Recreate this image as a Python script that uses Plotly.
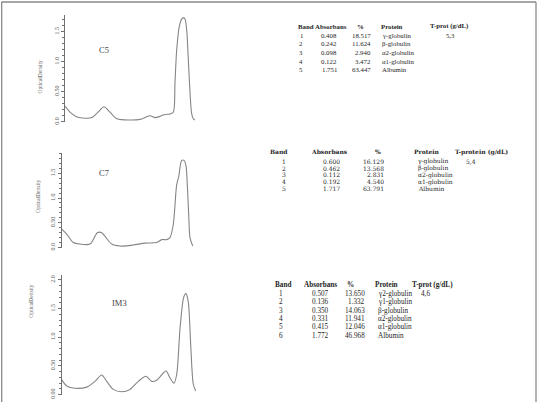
import plotly.graph_objects as go

W, H = 539, 406

# ---- densitometry traces (migration position, optical density) ----
c5_x = [0, 5, 12, 20, 27, 33, 39, 45, 52, 65, 75, 85, 90, 95, 100, 105, 108.3, 110, 111.7, 114.3, 116.7, 118.3,
        120, 121.7, 123.3, 125, 126.7, 128.3, 130]
c5_y = [0.26, 0.16, 0.08, 0.06, 0.07, 0.16, 0.25, 0.16, 0.05, 0.03, 0.04, 0.10, 0.07, 0.09, 0.12, 0.13, 0.16, 0.66,
        1.20, 1.59, 1.71, 1.73, 1.71, 1.53, 1.04, 0.49, 0.13, 0.05, 0.03]

c7_x = [0, 5, 11.6, 18.3, 28.3, 33.3, 35.6, 40, 44.3, 50, 58.3, 71.3, 83.3, 95, 100, 105, 108.3, 111.6, 115, 117,
        120, 122.3, 124.3, 125.6, 127, 128.3, 131]
c7_y = [0.37, 0.27, 0.10, 0.07, 0.07, 0.23, 0.30, 0.30, 0.20, 0.07, 0.03, 0.05, 0.09, 0.10, 0.16, 0.16, 0.20, 0.47,
        1.27, 1.43, 1.76, 1.76, 1.65, 1.27, 0.67, 0.20, 0.03]

im3_x = [0, 5, 13.3, 25, 33.3, 40, 45, 51.6, 60, 68.3, 76.6, 84.3, 90, 95, 104.3, 108.3, 112.3, 115, 118.3, 121.6,
         123, 124.3, 126.6, 129, 131.6, 134]
im3_y = [0.26, 0.15, 0.11, 0.13, 0.23, 0.34, 0.23, 0.09, 0.05, 0.09, 0.23, 0.32, 0.23, 0.25, 0.41, 0.29, 0.20, 0.35,
         1.15, 1.67, 1.74, 1.76, 1.61, 0.87, 0.18, 0.06]

sample_names = ["C5", "C7", "IM3"]

# ---- tables ----
t1_band = ["1", "2", "3", "4", "5"]
t1_abs = ["0.408", "0.242", "0.098", "0.122", "1.751"]
t1_pct = ["18.517", "11.624", "2.940", "3.472", "63.447"]
t1_prot = ["γ-globulin", "β-globulin", "α2-globulin", "α1-globulin", "Albumin"]
t1_tp = "5,3"

t2_band = ["1", "2", "3", "4", "5"]
t2_abs = ["0.600", "0.462", "0.112", "0.192", "1.717"]
t2_pct = ["16.129", "13.568", "2.831", "4.540", "63.791"]
t2_prot = ["γ-globulin", "β-globulin", "α2-globulin", "α1-globulin", "Albumin"]
t2_tp = "5,4"

t3_band = ["1", "2", "3", "4", "5", "6"]
t3_abs = ["0.507", "0.136", "0.350", "0.331", "0.415", "1.772"]
t3_pct = ["13.650", "1.332", "14.063", "11.941", "12.046", "46.968"]
t3_prot = ["γ2-globulin", "γ1-globulin", "β-globulin", "α2-globulin", "α1-globulin", "Albumin"]
t3_tp = "4,6"


def px(x):
    return x / W


def py(y):
    return 1 - y / H


fig = go.Figure()
LINE = "#707070"
TXT = "#1e1e1e"
SERIF = "Liberation Serif, Times New Roman, serif"
WIDE_SERIF = "DejaVu Serif, serif"

panels = [
    dict(x=c5_x, y=c5_y, xr=[0, 132], x0=65, x1=197, yt=15, yb=123, yr=[0, 1.78],
         tv=[0, 0.5, 1.0, 1.5], tt=["0.0", "0.50", "1.0", "1.5"], lab=(97, 43), title=(35, 58)),
    dict(x=c7_x, y=c7_y, xr=[0, 133.3], x0=61.7, x1=195, yt=155, yb=250, yr=[0, 1.9],
         tv=[0, 0.5, 1.0, 1.5], tt=["0.0", "0.50", "1.0", "1.5"], lab=(97, 175), title=(33, 198)),
    dict(x=im3_x, y=im3_y, xr=[0, 134.3], x0=61.7, x1=196, yt=278, yb=398.5, yr=[0, 2.08],
         tv=[0, 0.5, 1.0, 1.5, 2.0], tt=["0.00", "0.50", "1.0", "1.5", "2.0"], lab=(110, 313), title=(26, 323)),
]

for i, p in enumerate(panels):
    n = "" if i == 0 else str(i + 1)
    fig.add_trace(go.Scatter(x=p["x"], y=p["y"], mode="lines",
                             line=dict(color="#858585", width=1.1, shape="spline", smoothing=0.8),
                             xaxis="x" + n, yaxis="y" + n, showlegend=False, hoverinfo="skip"))
    fig.layout["xaxis" + n] = dict(domain=[px(p["x0"]), px(p["x1"])], range=p["xr"], visible=False,
                                   anchor="y" + n)
    fig.layout["yaxis" + n] = dict(domain=[py(p["yb"]), py(p["yt"])], range=p["yr"], anchor="x" + n,
                                   showline=True, linecolor=LINE, linewidth=1, showgrid=False, zeroline=False,
                                   ticks="outside", ticklen=3, tickcolor=LINE, tickvals=p["tv"], ticktext=p["tt"],
                                   tickangle=-90, tickfont=dict(family=SERIF, size=6, color="#555"),
                                   minor=dict(dtick=0.1, ticks="outside", ticklen=2, tickcolor=LINE, showgrid=False))
    fig.add_annotation(x=px(p["lab"][0]), y=py(p["lab"][1]), xref="paper", yref="paper", text=sample_names[i],
                       showarrow=False, font=dict(family=SERIF, size=8.5, color="#444"))
    fig.add_annotation(x=px(p["title"][0]), y=py(p["title"][1]), xref="paper", yref="paper", text="OpticalDensity",
                       textangle=-90, showarrow=False, font=dict(family=SERIF, size=5.5, color="#666"))


def txt(x, y, s, anchor="center", size=6.3, bold=False, family=SERIF):
    fig.add_annotation(x=px(x), y=py(y), xref="paper", yref="paper", text=("<b>%s</b>" % s) if bold else s,
                       showarrow=False, xanchor=anchor, yanchor="middle", borderpad=0,
                       font=dict(family=family, size=size, color=TXT))


def table(hy, ry, dy, size, cols, band, ab, pct, prot, tp, tphead, family=SERIF):
    (bh, bv), (ah, av, aanc), (ph, pv), (prh, prv), (th, tv) = cols
    txt(bh, hy, "Band", size=size, bold=True, family=family)
    txt(ah, hy, "Absorbans", size=size, bold=True, family=family)
    txt(ph, hy, "%", size=size, bold=True, family=family)
    txt(prh, hy, "Protein", size=size, bold=True, family=family)
    txt(th, hy, tphead, size=size, bold=True, family=family)
    for k in range(len(band)):
        y = ry + dy * k
        txt(bv, y, band[k], size=size, family=family)
        txt(av, y, ab[k], anchor=aanc, size=size, family=family)
        txt(pv, y, pct[k], anchor="right", size=size, family=family)
        txt(prv, y, prot[k], anchor="left", size=size, family=family)
    txt(tv, ry, tp, size=size, family=family)


table(26.7, 35.7, 8.7, 6.8,
      [(306, 301), (331, 338, "right"), (360, 372), (392, 381), (449, 450)],
      t1_band, t1_abs, t1_pct, t1_prot, t1_tp, "T-prot (g/dL)")
table(153.5, 163, 6.8, 6.0,
      [(279, 283.5), (329, 331, "center"), (378, 385), (427, 416.7), (481, 471)],
      t2_band, t2_abs, t2_pct, t2_prot, t2_tp, "T-protein (g/dL)", family=WIDE_SERIF)
table(287.7, 296.7, 8.5, 7.2,
      [(283.3, 280.7), (321, 320, "center"), (350, 366), (386.7, 377.3), (432, 425)],
      t3_band, t3_abs, t3_pct, t3_prot, t3_tp, "T-prot (g/dL)")

# frame
for (xa, ya, xb, yb) in [(1.5, 2, 536, 2), (1.7, 2, 1.7, 406), (536, 2, 536, 406)]:
    fig.add_shape(type="line", xref="paper", yref="paper", x0=px(xa), y0=py(ya), x1=px(xb), y1=py(yb),
                  line=dict(color="#8a8a8a", width=1.3))

fig.update_layout(width=W, height=H, margin=dict(l=0, r=0, t=0, b=0), paper_bgcolor="white",
                  plot_bgcolor="rgba(0,0,0,0)")

fig.write_html("out.html")
